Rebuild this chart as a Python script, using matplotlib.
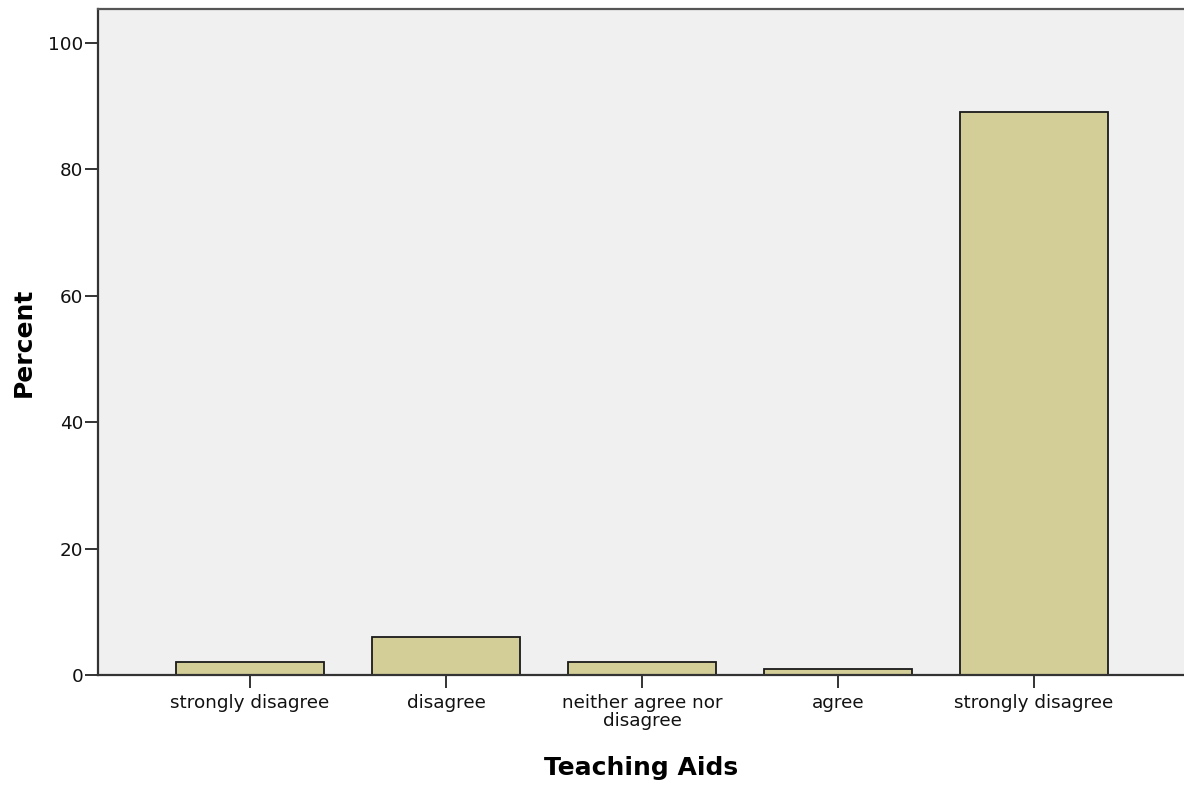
import numpy as np
import matplotlib
matplotlib.use("Agg")
import matplotlib.pyplot as plt

plt.rcParams['font.family'] = ['DejaVu Sans']

# donnees
categories = ["strongly disagree", "disagree", "neither agree nor\ndisagree",
              "agree", "strongly disagree"]
percent = [2.0, 6.0, 2.0, 1.0, 89.0]
yticks = [0, 20, 40, 60, 80, 100]

fig = plt.figure(figsize=(11.84, 7.91), dpi=100)
ax = fig.add_axes([98 / 1184, 1 - 675 / 791, 1 - 98 / 1184, 666 / 791])
ax.set_facecolor("#f0f0f0")

x = np.arange(len(categories))
ax.bar(x, percent, width=0.755, color="#d3ce97", edgecolor="#1a1a1a",
       linewidth=1.3, zorder=2)

ax.set_xlim(-0.776, 4.765)
ax.set_ylim(0, 105.3)
ax.set_xticks(x)
ax.set_xticklabels(categories, fontsize=13.2, linespacing=0.95,
                   color="#111111")
ax.set_yticks(yticks)
ax.set_yticklabels([str(v) for v in yticks], fontsize=13.2, color="#111111")

# ticks un peu plus longs comme spss
ax.tick_params(axis="y", direction="out", length=9.5, width=1.4,
               color="#333333", pad=1)
ax.tick_params(axis="x", direction="out", length=9, width=1.4,
               color="#333333", pad=5)

for side in ["left", "bottom", "top"]:
    ax.spines[side].set_color("#333333")
    ax.spines[side].set_linewidth(1.6)
ax.spines["top"].set_color("#555555")
ax.spines["right"].set_visible(False)

ax.set_ylabel("Percent", fontsize=18, fontweight="bold", labelpad=9)
ax.set_xlabel("Teaching Aids", fontsize=18, fontweight="bold", labelpad=19)

fig.savefig("out.png", dpi=100)
